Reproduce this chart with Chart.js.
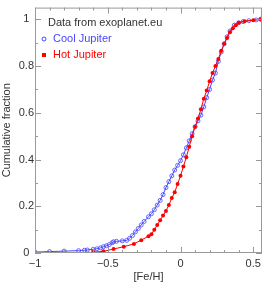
<!DOCTYPE html>
<html>
<head>
<meta charset="utf-8">
<script src="https://cdn.jsdelivr.net/npm/chart.js@4.4.1/dist/chart.umd.min.js"></script>
<style>
    body { margin: 0; background: #fff; }
    canvas { display: block; }
</style>
</head>
<body>
<canvas id="feh-chart" width="267" height="284"></canvas>
<script>
// cumulative [Fe/H] distributions
const coolFeH = [-1.0, -0.90, -0.80, -0.70, -0.66, -0.64, -0.60, -0.575, -0.55, -0.53, -0.51, -0.49, -0.47, -0.46, -0.44, -0.40, -0.37, -0.35, -0.33, -0.31, -0.29, -0.27, -0.25, -0.22, -0.20, -0.18, -0.16, -0.14, -0.12, -0.10, -0.08, -0.06, -0.04, -0.02, 0.0, 0.02, 0.04, 0.06, 0.08, 0.10, 0.12, 0.14, 0.16, 0.18, 0.20, 0.22, 0.24, 0.26, 0.28, 0.30, 0.32, 0.34, 0.37, 0.40, 0.43, 0.47, 0.52, 0.55];
const coolFrac = [0.004, 0.006, 0.008, 0.010, 0.012, 0.013, 0.016, 0.018, 0.022, 0.027, 0.031, 0.036, 0.044, 0.048, 0.050, 0.052, 0.054, 0.063, 0.075, 0.090, 0.105, 0.120, 0.135, 0.155, 0.168, 0.185, 0.205, 0.225, 0.250, 0.280, 0.305, 0.330, 0.355, 0.375, 0.395, 0.420, 0.450, 0.480, 0.510, 0.540, 0.565, 0.590, 0.625, 0.665, 0.700, 0.740, 0.770, 0.820, 0.860, 0.895, 0.925, 0.950, 0.975, 0.985, 0.990, 0.994, 0.997, 1.0];

const hotFeH = [-0.60, -0.53, -0.46, -0.39, -0.32, -0.27, -0.22, -0.20, -0.18, -0.16, -0.14, -0.12, -0.10, -0.08, -0.06, -0.04, -0.02, 0.0, 0.02, 0.04, 0.06, 0.08, 0.10, 0.12, 0.14, 0.16, 0.18, 0.20, 0.22, 0.24, 0.26, 0.28, 0.30, 0.32, 0.34, 0.36, 0.38, 0.40, 0.44, 0.50, 0.55];
const hotFrac = [0.004, 0.007, 0.017, 0.027, 0.039, 0.055, 0.072, 0.080, 0.100, 0.120, 0.140, 0.160, 0.180, 0.205, 0.235, 0.260, 0.295, 0.330, 0.370, 0.410, 0.455, 0.500, 0.540, 0.575, 0.615, 0.660, 0.695, 0.735, 0.770, 0.800, 0.830, 0.865, 0.895, 0.920, 0.945, 0.962, 0.975, 0.985, 0.992, 0.996, 1.0];

const xTickValues = [-1, -0.5, 0, 0.5];
const xTickLabels = ['\u22121', '\u22120.5', '0', '0.5'];
const yTickValues = [0, 0.2, 0.4, 0.6, 0.8, 1];
const yTickLabels = ['0', '0.2', '0.4', '0.6', '0.8', '1'];

const BLUE = 'rgb(70,70,255)';
const RED = 'rgb(255,0,0)';
const FONT = '"Liberation Sans", Arial, sans-serif';


function toPoints(xs, ys) {
    return xs.map((x, i) => ({ x: x, y: ys[i] }));
}


// frame with inward ticks on all four sides
const frameTicks = {
    id: 'frameTicks',
    afterDraw(chart) {
        const ctx = chart.ctx;
        const area = chart.chartArea;
        const xs = chart.scales.x, ys = chart.scales.y;
        ctx.save();
        ctx.strokeStyle = '#999';
        ctx.lineWidth = 1;
        ctx.strokeRect(area.left + 0.5, area.top + 0.5, area.right - area.left - 1, area.bottom - area.top - 1);
        ctx.beginPath();
        for (let i = -10; i <= 5; i++) {
            const v = i / 10;
            const px = Math.round(xs.getPixelForValue(v)) + 0.5;
            const len = (i % 5 === 0) ? 6 : 3;
            ctx.moveTo(px, area.bottom); ctx.lineTo(px, area.bottom - len);
            ctx.moveTo(px, area.top); ctx.lineTo(px, area.top + len);
        }
        for (let i = 0; i <= 10; i++) {
            const v = i / 10;
            const py = Math.round(ys.getPixelForValue(v)) + 0.5;
            const len = (i % 2 === 0) ? 6 : 3;
            ctx.moveTo(area.left, py); ctx.lineTo(area.left + len, py);
            ctx.moveTo(area.right, py); ctx.lineTo(area.right - len, py);
        }
        ctx.stroke();
        ctx.restore();
    }
};


const legendText = {
    id: 'legendText',
    afterDraw(chart) {
        const ctx = chart.ctx;
        ctx.save();
        ctx.font = '11px ' + FONT;
        ctx.textBaseline = 'middle';
        ctx.textAlign = 'left';
        ctx.fillStyle = '#333';
        ctx.fillText('Data from exoplanet.eu', 48, 23);

        ctx.fillStyle = BLUE;
        ctx.fillText('Cool Jupiter', 53, 39);
        ctx.strokeStyle = BLUE;
        ctx.lineWidth = 1;
        ctx.beginPath();
        ctx.arc(44, 39, 2, 0, Math.PI * 2);
        ctx.stroke();

        ctx.fillStyle = RED;
        ctx.fillText('Hot Jupiter', 53, 55);
        ctx.fillRect(42, 53, 4, 4);
        ctx.restore();
    }
};


function initChart() {
    const ctx = document.getElementById('feh-chart').getContext('2d');
    return new Chart(ctx, {
        type: 'scatter',
        data: {
            datasets: [{
                label: 'Hot Jupiter',
                data: toPoints(hotFeH, hotFrac),
                showLine: true,
                borderColor: RED,
                borderWidth: 1,
                pointRadius: 2,
                pointBackgroundColor: RED,
                pointBorderColor: RED,
                pointBorderWidth: 0,
                order: 1
            }, {
                label: 'Cool Jupiter',
                data: toPoints(coolFeH, coolFrac),
                showLine: true,
                borderColor: BLUE,
                borderWidth: 1,
                pointRadius: 2,
                pointBackgroundColor: 'rgba(0,0,0,0)',
                pointBorderColor: 'rgba(70,70,255,0.8)',
                pointBorderWidth: 1,
                order: 2
            }]
        },
        options: {
            responsive: false,
            animation: false,
            devicePixelRatio: 1,
            layout: { padding: { top: 0, right: 2, left: 0, bottom: 0 } },
            scales: {
                x: {
                    type: 'linear',
                    min: -1,
                    max: 0.56,
                    grid: { display: false, drawTicks: false },
                    border: { display: false },
                    afterBuildTicks: function(scale) {
                        scale.ticks = xTickValues.map(v => ({ value: v }));
                    },
                    afterFit: function(scale) { scale.height = 31; },
                    ticks: {
                        padding: 4,
                        maxRotation: 0,
                        color: '#333',
                        font: { family: FONT, size: 11 },
                        callback: function(value) {
                            const i = xTickValues.indexOf(value);
                            return i >= 0 ? xTickLabels[i] : '';
                        }
                    },
                    title: {
                        display: true,
                        text: '[Fe/H]',
                        color: '#333',
                        padding: 0,
                        font: { family: FONT, size: 11 }
                    }
                },
                y: {
                    type: 'linear',
                    min: 0,
                    max: 1.05,
                    grid: { display: false, drawTicks: false },
                    border: { display: false },
                    afterBuildTicks: function(scale) {
                        scale.ticks = yTickValues.map(v => ({ value: v }));
                    },
                    afterFit: function(scale) { scale.width = 35; },
                    ticks: {
                        padding: 1,
                        crossAlign: 'center',
                        color: '#333',
                        font: { family: FONT, size: 11 },
                        callback: function(value) {
                            const i = yTickValues.indexOf(value);
                            return i >= 0 ? yTickLabels[i] : '';
                        }
                    },
                    title: {
                        display: true,
                        text: 'Cumulative fraction',
                        color: '#333',
                        padding: 0,
                        font: { family: FONT, size: 11 }
                    }
                }
            },
            plugins: {
                legend: { display: false },
                tooltip: { enabled: false }
            }
        },
        plugins: [frameTicks, legendText]
    });
}


document.addEventListener('DOMContentLoaded', function() {
    initChart();
});
</script>
</body>
</html>
